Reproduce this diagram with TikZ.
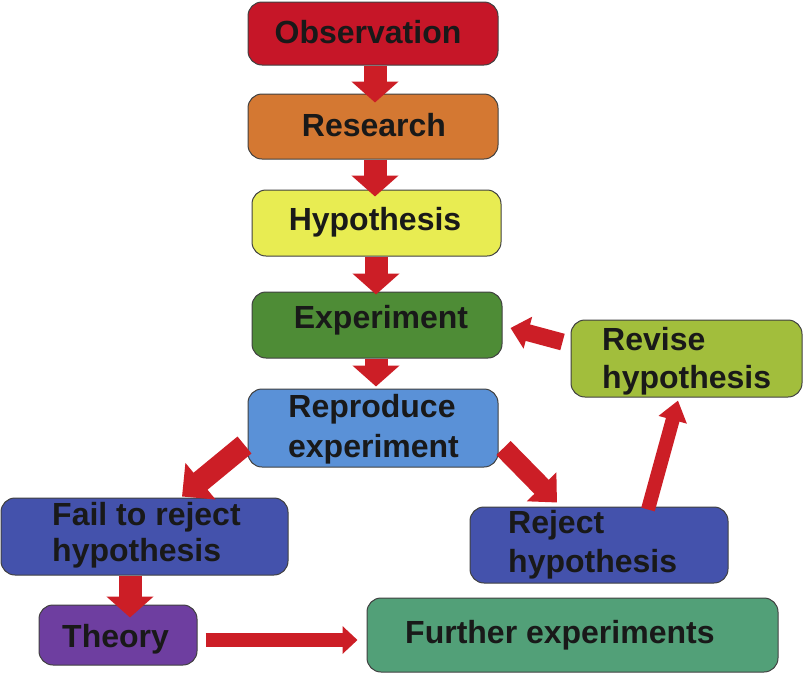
\documentclass[tikz,border=0pt]{standalone}
\usepackage{fontspec}
\setmainfont{Liberation Sans}
\usetikzlibrary{arrows.meta,calc}
\definecolor{cObs}{RGB}{198,22,40}
\definecolor{cRes}{RGB}{212,120,50}
\definecolor{cHyp}{RGB}{232,236,82}
\definecolor{cExp}{RGB}{78,140,54}
\definecolor{cRep}{RGB}{90,145,215}
\definecolor{cFail}{RGB}{68,82,172}
\definecolor{cThe}{RGB}{110,62,160}
\definecolor{cFur}{RGB}{82,160,120}
\definecolor{cRej}{RGB}{68,82,172}
\definecolor{cRev}{RGB}{162,190,60}
\definecolor{cArr}{RGB}{204,30,38}
\tikzset{
  box/.style={draw=black!75, line width=1pt, rounded corners=14pt, inner sep=0pt},
  lbl/.style={font=\fontsize{32}{38}\selectfont\bfseries, text=black!90, inner sep=0pt},
  bigarrow/.style={draw=cArr, line width=23pt, -{Triangle[length=21pt,width=46pt]}},
}
\begin{document}
\begin{tikzpicture}[x=1pt,y=-1pt]
\useasboundingbox (0,0) rectangle (804,673);
% boxes
\node[box, fill=cObs, minimum width=250pt, minimum height=63pt] (obs) at (373,33.5) {};
\node[box, fill=cRes, minimum width=250pt, minimum height=65pt] (res) at (373,126.5) {};
\node[box, fill=cHyp, minimum width=249pt, minimum height=66pt] (hyp) at (376.5,223) {};
\node[box, fill=cExp, minimum width=250pt, minimum height=66pt] (exp) at (377,325) {};
\node[box, fill=cRep, minimum width=250pt, minimum height=78pt] (rep) at (373,428) {};
\node[box, fill=cFail, minimum width=287pt, minimum height=77pt] (fail) at (144.5,536.5) {};
\node[box, fill=cThe, minimum width=158pt, minimum height=60pt] (theory) at (118,635) {};
\node[box, fill=cFur, minimum width=411pt, minimum height=74pt] (further) at (572.5,635) {};
\node[box, fill=cRej, minimum width=258pt, minimum height=76pt] (reject) at (599,545) {};
\node[box, fill=cRev, minimum width=231pt, minimum height=77pt] (revise) at (686.5,358.5) {};
% texts
\node[lbl, anchor=base] (tObs) at (368,43) {Observation};
\node[lbl, anchor=base] (tRes) at (374,136) {Research};
\node[lbl, anchor=base] (tHyp) at (375,230) {Hypothesis};
\node[lbl, anchor=base] (tExp) at (381,328) {Experiment};
\node[lbl, anchor=base] (tRep1) at (372,417) {Reproduce};
\node[lbl, anchor=base] (tRep2) at (373.5,457) {experiment};
\node[lbl, anchor=base west] (tFail1) at (52,525) {Fail to reject};
\node[lbl, anchor=base west] (tFail2) at (52,561) {hypothesis};
\node[lbl, anchor=base west] (tThe) at (62,647) {Theory};
\node[lbl, anchor=base west] (tFur) at (405,643) {Further experiments};
\node[lbl, anchor=base west] (tRej1) at (508,533) {Reject};
\node[lbl, anchor=base west] (tRej2) at (508,572) {hypothesis};
\node[lbl, anchor=base west] (tRev1) at (602,350) {Revise};
\node[lbl, anchor=base west] (tRev2) at (602,388) {hypothesis};
% arrows
\draw[bigarrow] ($(obs.south)+(2,0)$) -- ($(res.north)+(2,9)$);
\draw[bigarrow] ($(res.south)+(2,0)$) -- ($(hyp.north)+(-1.5,7)$);
\draw[bigarrow] ($(hyp.south)+(-0.5,0)$) -- ($(exp.north)+(-1,3)$);
\draw[bigarrow] ($(exp.south)+(-1,0)$) -- ($(rep.north)+(3,-2)$);
\draw[bigarrow, line width=22pt, -{Triangle[length=24pt,width=46pt]}] ($(rep.west)+(-3,17)$) -- ($(fail.north)+(37.5,-1)$);
\draw[bigarrow] ($(fail.south)+(-14.5,0)$) -- ($(theory.north)+(12,13)$);
\draw[bigarrow, line width=14pt, -{Triangle[length=15pt,width=27pt]}] ($(theory.east)+(8,5)$) -- ($(further.west)+(-9,5)$);
\draw[bigarrow, line width=20pt, -{Triangle[length=22pt,width=40pt]}] ($(rep.east)+(5,20)$) -- ($(reject.north)+(-42,-4)$);
\draw[bigarrow, line width=14pt, -{Triangle[length=20pt,width=28pt]}] ($(reject.north)+(49,3)$) -- ($(revise.south)+(-8.5,3)$);
\draw[bigarrow, line width=17pt, -{Triangle[length=18pt,width=32pt]}] ($(revise.west)+(-8,-16.5)$) -- ($(exp.east)+(8,3)$);
\end{tikzpicture}
\end{document}
